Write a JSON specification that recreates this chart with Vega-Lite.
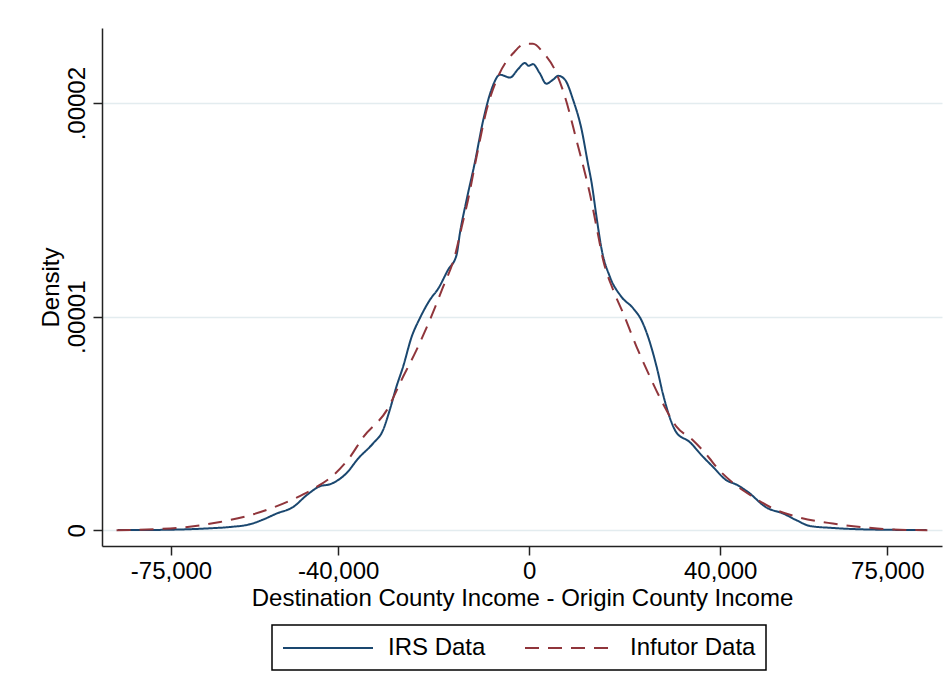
{
  "$schema": "https://vega.github.io/schema/vega-lite/v6.json",
  "autosize": "none",
  "width": 840,
  "height": 518,
  "padding": {"left": 102, "top": 28, "right": 9, "bottom": 146},
  "background": "white",
  "config": {
    "view": {"stroke": null},
    "font": "Liberation Sans",
    "axis": {
      "labelFont": "Liberation Sans",
      "titleFont": "Liberation Sans",
      "labelFontSize": 24,
      "titleFontSize": 24,
      "titleFontWeight": "normal",
      "labelColor": "#000000",
      "titleColor": "#000000",
      "domainColor": "#222222",
      "tickColor": "#222222",
      "domainWidth": 1.5,
      "tickWidth": 1.5,
      "tickSize": 9
    },
    "legend": {
      "strokeColor": "#000000",
      "strokeWidth": 1.5
    }
  },
  "data": {
    "values": [
      {"series": "IRS Data", "diff": -86100, "density": 1e-8},
      {"series": "IRS Data", "diff": -83200, "density": 1e-8},
      {"series": "IRS Data", "diff": -73800, "density": 3.3e-8},
      {"series": "IRS Data", "diff": -66800, "density": 9.4e-8},
      {"series": "IRS Data", "diff": -62600, "density": 1.55e-7},
      {"series": "IRS Data", "diff": -58500, "density": 2.81e-7},
      {"series": "IRS Data", "diff": -55700, "density": 5.02e-7},
      {"series": "IRS Data", "diff": -52900, "density": 7.83e-7},
      {"series": "IRS Data", "diff": -49400, "density": 1.092e-6},
      {"series": "IRS Data", "diff": -46600, "density": 1.641e-6},
      {"series": "IRS Data", "diff": -43800, "density": 2.063e-6},
      {"series": "IRS Data", "diff": -41700, "density": 2.156e-6},
      {"series": "IRS Data", "diff": -38200, "density": 2.686e-6},
      {"series": "IRS Data", "diff": -35800, "density": 3.361e-6},
      {"series": "IRS Data", "diff": -32700, "density": 4.064e-6},
      {"series": "IRS Data", "diff": -30600, "density": 4.688e-6},
      {"series": "IRS Data", "diff": -29200, "density": 5.626e-6},
      {"series": "IRS Data", "diff": -27800, "density": 6.718e-6},
      {"series": "IRS Data", "diff": -26400, "density": 7.656e-6},
      {"series": "IRS Data", "diff": -24600, "density": 9.062e-6},
      {"series": "IRS Data", "diff": -22900, "density": 9.924e-6},
      {"series": "IRS Data", "diff": -20800, "density": 1.0782e-5},
      {"series": "IRS Data", "diff": -19000, "density": 1.1331e-5},
      {"series": "IRS Data", "diff": -17000, "density": 1.2189e-5},
      {"series": "IRS Data", "diff": -15200, "density": 1.2892e-5},
      {"series": "IRS Data", "diff": -14500, "density": 1.3909e-5},
      {"series": "IRS Data", "diff": -13100, "density": 1.547e-5},
      {"series": "IRS Data", "diff": -11400, "density": 1.719e-5},
      {"series": "IRS Data", "diff": -9600, "density": 1.922e-5},
      {"series": "IRS Data", "diff": -7900, "density": 2.063e-5},
      {"series": "IRS Data", "diff": -6100, "density": 2.133e-5},
      {"series": "IRS Data", "diff": -4000, "density": 2.12e-5},
      {"series": "IRS Data", "diff": -2300, "density": 2.16e-5},
      {"series": "IRS Data", "diff": -900, "density": 2.188e-5},
      {"series": "IRS Data", "diff": -100, "density": 2.175e-5},
      {"series": "IRS Data", "diff": 800, "density": 2.183e-5},
      {"series": "IRS Data", "diff": 2200, "density": 2.141e-5},
      {"series": "IRS Data", "diff": 3600, "density": 2.091e-5},
      {"series": "IRS Data", "diff": 5000, "density": 2.11e-5},
      {"series": "IRS Data", "diff": 6100, "density": 2.128e-5},
      {"series": "IRS Data", "diff": 7500, "density": 2.11e-5},
      {"series": "IRS Data", "diff": 9200, "density": 2.016e-5},
      {"series": "IRS Data", "diff": 11000, "density": 1.875e-5},
      {"series": "IRS Data", "diff": 12300, "density": 1.719e-5},
      {"series": "IRS Data", "diff": 13100, "density": 1.625e-5},
      {"series": "IRS Data", "diff": 14100, "density": 1.469e-5},
      {"series": "IRS Data", "diff": 15200, "density": 1.313e-5},
      {"series": "IRS Data", "diff": 16900, "density": 1.1875e-5},
      {"series": "IRS Data", "diff": 19300, "density": 1.094e-5},
      {"series": "IRS Data", "diff": 21800, "density": 1.039e-5},
      {"series": "IRS Data", "diff": 23500, "density": 9.845e-6},
      {"series": "IRS Data", "diff": 24900, "density": 9.062e-6},
      {"series": "IRS Data", "diff": 26700, "density": 7.656e-6},
      {"series": "IRS Data", "diff": 28000, "density": 6.408e-6},
      {"series": "IRS Data", "diff": 29400, "density": 5.311e-6},
      {"series": "IRS Data", "diff": 30900, "density": 4.561e-6},
      {"series": "IRS Data", "diff": 33600, "density": 4.139e-6},
      {"series": "IRS Data", "diff": 36100, "density": 3.516e-6},
      {"series": "IRS Data", "diff": 38500, "density": 2.968e-6},
      {"series": "IRS Data", "diff": 41300, "density": 2.344e-6},
      {"series": "IRS Data", "diff": 43400, "density": 2.142e-6},
      {"series": "IRS Data", "diff": 45800, "density": 1.796e-6},
      {"series": "IRS Data", "diff": 49700, "density": 1.064e-6},
      {"series": "IRS Data", "diff": 53200, "density": 7.83e-7},
      {"series": "IRS Data", "diff": 56000, "density": 4.69e-7},
      {"series": "IRS Data", "diff": 58800, "density": 2.02e-7},
      {"series": "IRS Data", "diff": 63600, "density": 1.08e-7},
      {"series": "IRS Data", "diff": 72000, "density": 3.3e-8},
      {"series": "IRS Data", "diff": 83200, "density": 1e-8},
      {"series": "Infutor Data", "diff": -86400, "density": 5e-9},
      {"series": "Infutor Data", "diff": -77300, "density": 6.1e-8},
      {"series": "Infutor Data", "diff": -70300, "density": 1.88e-7},
      {"series": "Infutor Data", "diff": -64700, "density": 3.89e-7},
      {"series": "Infutor Data", "diff": -58500, "density": 7.03e-7},
      {"series": "Infutor Data", "diff": -53600, "density": 1.064e-6},
      {"series": "Infutor Data", "diff": -48700, "density": 1.533e-6},
      {"series": "Infutor Data", "diff": -44500, "density": 2.03e-6},
      {"series": "Infutor Data", "diff": -41000, "density": 2.578e-6},
      {"series": "Infutor Data", "diff": -37500, "density": 3.436e-6},
      {"series": "Infutor Data", "diff": -34700, "density": 4.374e-6},
      {"series": "Infutor Data", "diff": -29800, "density": 5.626e-6},
      {"series": "Infutor Data", "diff": -26400, "density": 7.187e-6},
      {"series": "Infutor Data", "diff": -23600, "density": 8.438e-6},
      {"series": "Infutor Data", "diff": -20800, "density": 9.845e-6},
      {"series": "Infutor Data", "diff": -18000, "density": 1.1406e-5},
      {"series": "Infutor Data", "diff": -15600, "density": 1.2812e-5},
      {"series": "Infutor Data", "diff": -14100, "density": 1.4219e-5},
      {"series": "Infutor Data", "diff": -12800, "density": 1.547e-5},
      {"series": "Infutor Data", "diff": -11000, "density": 1.75e-5},
      {"series": "Infutor Data", "diff": -8900, "density": 1.969e-5},
      {"series": "Infutor Data", "diff": -6500, "density": 2.125e-5},
      {"series": "Infutor Data", "diff": -3300, "density": 2.235e-5},
      {"series": "Infutor Data", "diff": -900, "density": 2.278e-5},
      {"series": "Infutor Data", "diff": 800, "density": 2.278e-5},
      {"series": "Infutor Data", "diff": 2900, "density": 2.238e-5},
      {"series": "Infutor Data", "diff": 5700, "density": 2.141e-5},
      {"series": "Infutor Data", "diff": 7800, "density": 2.008e-5},
      {"series": "Infutor Data", "diff": 9900, "density": 1.828e-5},
      {"series": "Infutor Data", "diff": 11700, "density": 1.672e-5},
      {"series": "Infutor Data", "diff": 12700, "density": 1.578e-5},
      {"series": "Infutor Data", "diff": 14100, "density": 1.4219e-5},
      {"series": "Infutor Data", "diff": 15500, "density": 1.2658e-5},
      {"series": "Infutor Data", "diff": 17600, "density": 1.1251e-5},
      {"series": "Infutor Data", "diff": 19700, "density": 1.0159e-5},
      {"series": "Infutor Data", "diff": 22500, "density": 8.593e-6},
      {"series": "Infutor Data", "diff": 25300, "density": 7.187e-6},
      {"series": "Infutor Data", "diff": 28000, "density": 5.94e-6},
      {"series": "Infutor Data", "diff": 30900, "density": 4.843e-6},
      {"series": "Infutor Data", "diff": 34300, "density": 4.219e-6},
      {"series": "Infutor Data", "diff": 37800, "density": 3.361e-6},
      {"series": "Infutor Data", "diff": 39200, "density": 2.968e-6},
      {"series": "Infutor Data", "diff": 42700, "density": 2.217e-6},
      {"series": "Infutor Data", "diff": 46900, "density": 1.561e-6},
      {"series": "Infutor Data", "diff": 51100, "density": 1.017e-6},
      {"series": "Infutor Data", "diff": 56700, "density": 5.95e-7},
      {"series": "Infutor Data", "diff": 63600, "density": 3.14e-7},
      {"series": "Infutor Data", "diff": 70600, "density": 1.27e-7},
      {"series": "Infutor Data", "diff": 76200, "density": 3.3e-8},
      {"series": "Infutor Data", "diff": 83400, "density": 5e-9}
    ]
  },
  "mark": {"type": "line", "strokeWidth": 2, "interpolate": "monotone", "clip": true},
  "encoding": {
    "x": {
      "field": "diff",
      "type": "quantitative",
      "scale": {"domain": [-89450, 86460], "nice": false, "zero": false},
      "axis": {
        "title": "Destination County Income - Origin County Income",
        "values": [-75000, -40000, 0, 40000, 75000],
        "labelExpr": "datum.value < 0 ? '-' + format(-datum.value, ',') : format(datum.value, ',')",
        "grid": false,
        "labelPadding": 4,
        "titlePadding": 3,
        "labelFlush": false
      }
    },
    "y": {
      "field": "density",
      "type": "quantitative",
      "scale": {"domain": [-7.36e-7, 2.352e-5], "nice": false, "zero": false},
      "axis": {
        "title": "Density",
        "values": [0, 0.00001, 0.00002],
        "labelExpr": "datum.value == 0 ? '0' : replace(format(datum.value, '.5f'), '0.', '.')",
        "labelAngle": 270,
        "labelAlign": "center",
        "labelBaseline": "alphabetic",
        "labelPadding": 9,
        "titlePadding": 2,
        "grid": true,
        "gridColor": "#e3ecef",
        "gridWidth": 1.5,
        "labelFlush": false
      }
    },
    "color": {
      "field": "series",
      "type": "nominal",
      "scale": {"domain": ["IRS Data", "Infutor Data"], "range": ["#1a476f", "#90353b"]},
      "legend": {
        "title": null,
        "orient": "none",
        "legendX": 170,
        "legendY": 597,
        "direction": "horizontal",
        "symbolType": "M-1,0H6.5",
        "symbolSize": 576,
        "symbolStrokeWidth": 2,
        "labelFont": "Liberation Sans",
        "labelFontSize": 24,
        "labelColor": "#000000",
        "labelOffset": 80,
        "columnPadding": 35,
        "padding": 10,
        "strokeColor": "#000000"
      }
    },
    "strokeDash": {
      "field": "series",
      "type": "nominal",
      "scale": {"domain": ["IRS Data", "Infutor Data"], "range": [[1, 0], [14, 9]]},
      "legend": {
        "title": null,
        "orient": "none",
        "legendX": 170,
        "legendY": 597,
        "direction": "horizontal",
        "symbolType": "M-1,0H6.5",
        "symbolSize": 576,
        "symbolStrokeWidth": 2,
        "labelFont": "Liberation Sans",
        "labelFontSize": 24,
        "labelColor": "#000000",
        "labelOffset": 80,
        "columnPadding": 35,
        "padding": 10,
        "strokeColor": "#000000"
      }
    }
  }
}
